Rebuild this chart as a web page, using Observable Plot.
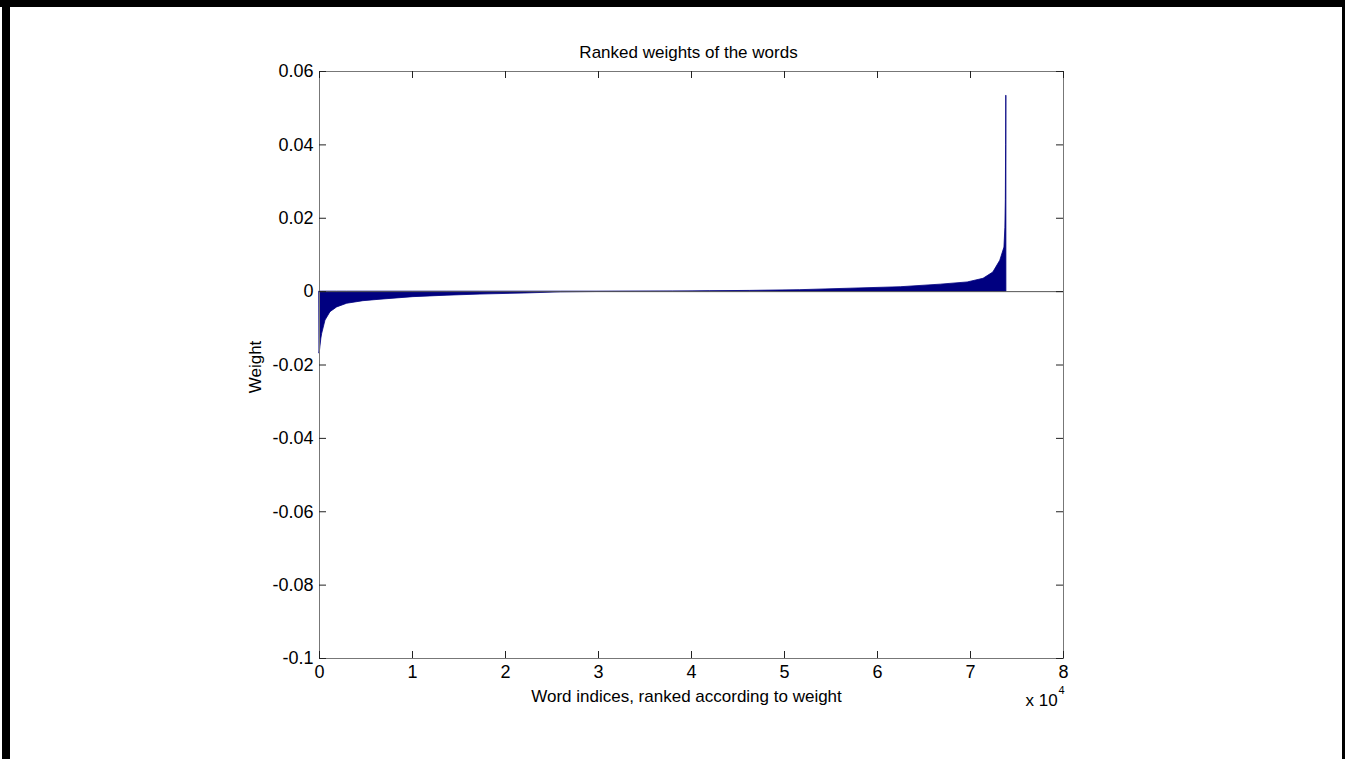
<!DOCTYPE html>
<html>
<head>
<meta charset="utf-8">
<script src="https://cdn.jsdelivr.net/npm/d3@7"></script>
<script src="https://cdn.jsdelivr.net/npm/@observablehq/plot@0.6"></script>
<style>
  html, body { margin: 0; padding: 0; background: #fff; }
  #wrap { position: relative; width: 1345px; height: 759px; overflow: hidden; }
  .bd { position: absolute; background: #000; }
  svg { font-family: "Liberation Sans", Arial, sans-serif; }
</style>
</head>
<body>
<div id="wrap">
  <div id="chart"></div>
  <div class="bd" style="left:0;top:0;width:1345px;height:7px"></div>
  <div class="bd" style="left:2px;top:0;width:8px;height:759px"></div>
  <div class="bd" style="left:1342px;top:0;width:3px;height:759px"></div>
</div>
<script>
// Ranked word indices and their weights
const rankIndex = [0, 40, 100, 200, 290, 645, 1180, 1900, 2980, 4730, 6560, 10100, 13760, 17300, 22150, 26000, 30000,
  38000, 42000, 46300, 51700, 57100, 62500, 66800, 69700, 71400, 72450, 73200, 73650, 73750, 73800, 73830, 73845, 73860, 73861];
const weights = [-0.0168, -0.0164, -0.0150, -0.0128, -0.0115, -0.0079, -0.0056, -0.0043, -0.0033, -0.0026, -0.0022, -0.0015, -0.0011, -0.0008, -0.0005, -0.0002, -0.0001,
  0, 0.0001, 0.0002, 0.0004, 0.0008, 0.0012, 0.0019, 0.0025, 0.0035, 0.0052, 0.0084, 0.0120, 0.0174, 0.025, 0.040, 0.0534, 0.0534, 0];
const xTicks = [0, 10000, 20000, 30000, 40000, 50000, 60000, 70000, 80000];
const yTicks = [-0.1, -0.08, -0.06, -0.04, -0.02, 0, 0.02, 0.04, 0.06];
const titleText = "Ranked weights of the words";
const xLabel = "Word indices, ranked according to weight";
const yLabel = "Weight";

const data = rankIndex.map((x, i) => ({x, w: weights[i]}));

const W = 1345, H = 759;
const mL = 319, mR = 1345 - 1063, mT = 71, mB = 759 - 658;
const plotH = H - mT - mB, plotW = W - mL - mR;
const tick = 7;
const fmtY = d => String(+d.toFixed(2));
const font = "Liberation Sans, Arial, sans-serif";
const txt = {fill: "#000", lineAnchor: "middle"};

const chart = Plot.plot({
  width: W, height: H,
  marginLeft: mL, marginRight: mR, marginTop: mT, marginBottom: mB,
  style: {fontFamily: font, fontSize: "17px", background: "transparent", color: "#000"},
  x: {domain: [0, 80000]},
  y: {domain: [-0.1, 0.06]},
  marks: [
    Plot.areaY(data, {x: "x", y: "w", fill: "#000080", stroke: "#000080", strokeWidth: 0.8, curve: "linear"}),
    Plot.ruleY([0], {stroke: "#555", strokeWidth: 1}),
    Plot.frame({stroke: "#777", strokeWidth: 1}),
    // inward ticks (bottom, top, left, right)
    Plot.tickX(xTicks, {x: d => d, insetTop: plotH - tick, stroke: "#222"}),
    Plot.tickX(xTicks, {x: d => d, insetBottom: plotH - tick, stroke: "#222"}),
    Plot.tickY(yTicks, {y: d => d, insetRight: plotW - tick, stroke: "#222"}),
    Plot.tickY(yTicks, {y: d => d, insetLeft: plotW - tick, stroke: "#222"}),
    Plot.axisX(xTicks, {tickSize: 0, tickPadding: 5, tickFormat: d => String(d / 10000), fontSize: 18, label: null, dy: 2}),
    Plot.axisY(yTicks, {tickSize: 0, tickPadding: 6, tickFormat: fmtY, fontSize: 18, label: null}),
    Plot.text([titleText], {...txt, frameAnchor: "top", textAnchor: "middle", dy: -19, dx: -3, fontSize: 17}),
    Plot.text([xLabel], {...txt, frameAnchor: "bottom", textAnchor: "middle", dy: 38, dx: -5, fontSize: 17}),
    Plot.text([yLabel], {...txt, frameAnchor: "left", textAnchor: "middle", dx: -64, dy: 2, rotate: -90, fontSize: 17}),
    Plot.text(["x 10"], {...txt, frameAnchor: "bottom-right", textAnchor: "start", dx: -38, dy: 42, fontSize: 17}),
    Plot.text(["4"], {...txt, frameAnchor: "bottom-right", textAnchor: "start", dx: -5, dy: 32, fontSize: 11})
  ]
});
document.getElementById("chart").appendChild(chart);
</script>
</body>
</html>
